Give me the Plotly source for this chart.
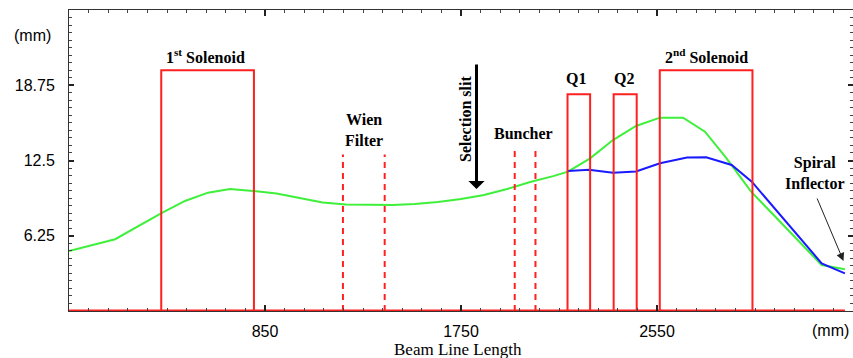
import plotly.graph_objects as go

# ---------------- data ----------------
# beam envelope (mm) vs beam line position (mm)
green_x = [0, 200, 399, 503, 603, 698, 798, 900, 1000, 1100, 1200, 1300, 1400, 1500, 1600,
           1700, 1800, 1900, 2000, 2100, 2164, 2260, 2359, 2459, 2563, 2663, 2758, 2850,
           2958, 3060, 3162, 3214, 3264, 3365]
green_y = [4.98, 5.96, 8.11, 9.14, 9.83, 10.13, 9.97, 9.76, 9.39, 9.01, 8.85, 8.80, 8.80, 8.89, 9.05,
           9.30, 9.63, 10.13, 10.71, 11.20, 11.57, 12.68, 14.20, 15.37, 16.06, 16.06, 14.89, 12.71,
           9.91, 7.89, 5.90, 4.82, 3.82, 3.46]

blue_x = [2164, 2255, 2359, 2459, 2563, 2680, 2763, 2874, 2961, 3214, 3264, 3365]
blue_y = [11.63, 11.74, 11.49, 11.59, 12.27, 12.75, 12.77, 12.13, 10.74, 5.07, 3.96, 3.13]

# beam line elements: (start, end, height)
solid_names = ["1<sup>st</sup> Solenoid", "Q1", "Q2", "2<sup>nd</sup> Solenoid"]
solid_start = [400, 2162, 2362, 2562]
solid_end = [802, 2260, 2462, 2964]
solid_height = [20.0, 18.0, 18.0, 20.0]

dashed_names = ["Wien<br>Filter", "Buncher"]
dashed_start = [1188, 1933]
dashed_end = [1369, 2023]
dashed_height = [13.0, 13.6]

baseline_x = [0, 3365]

x_tickvals = [850, 1700, 2550]
x_ticktext = ["850", "1750", "2550"]
y_tickvals = [6.25, 12.5, 18.75]
y_ticktext = ["6.25", "12.5", "18.75"]

RED = "#ff2020"
GREEN = "#3ef03a"
BLUE = "#1a1aff"

fig = go.Figure()

fig.add_trace(go.Scatter(x=green_x, y=green_y, mode="lines",
                         line=dict(color=GREEN, width=2), showlegend=False))
fig.add_trace(go.Scatter(x=blue_x, y=blue_y, mode="lines",
                         line=dict(color=BLUE, width=2), showlegend=False))

# solid boxes
sx, sy = [], []
for s, e, h in zip(solid_start, solid_end, solid_height):
    sx += [s, s, e, e, None]
    sy += [0, h, h, 0, None]
fig.add_trace(go.Scatter(x=sx, y=sy, mode="lines", line=dict(color=RED, width=2),
                         showlegend=False, cliponaxis=False))

# dashed elements
dx, dy = [], []
for s, e, h in zip(dashed_start, dashed_end, dashed_height):
    dx += [s, s, None, e, e, None]
    dy += [0, h, None, 0, h, None]
fig.add_trace(go.Scatter(x=dx, y=dy, mode="lines",
                         line=dict(color=RED, width=2, dash="6px,5px"),
                         showlegend=False, cliponaxis=False))

# baseline
fig.add_trace(go.Scatter(x=baseline_x, y=[0, 0], mode="lines",
                         line=dict(color=RED, width=3), showlegend=False, cliponaxis=False))

L, T, W, H = 69, 10, 784, 301


def px(xp):
    return (xp - L) / W


def py(yp):
    return (T + H - yp) / H


lab_font = dict(family="Liberation Serif", size=16, color="black")
ann = []
for text, x, y in [("<b>1<sup>st</sup> Solenoid</b>", 205, 56),
                   ("<b>Wien<br>Filter</b>", 364, 130),
                   ("<b>Buncher</b>", 523, 133),
                   ("<b>Q1</b>", 576, 79),
                   ("<b>Q2</b>", 624, 79),
                   ("<b>2<sup>nd</sup> Solenoid</b>", 706, 56),
                   ("<b>Spiral<br>Inflector</b>", 815, 173)]:
    ann.append(dict(text=text, x=px(x), y=py(y), xref="paper", yref="paper",
                    showarrow=False, font=lab_font, xanchor="center", yanchor="middle"))

ann.append(dict(text="<b>Selection slit</b>", x=px(465), y=py(119), xref="paper", yref="paper",
                showarrow=False, font=lab_font, textangle=-90,
                xanchor="center", yanchor="middle"))
# selection slit arrow
ann.append(dict(text="", x=px(476.5), y=py(189), xref="paper", yref="paper",
                showarrow=True, ax=0, ay=-126, arrowwidth=3, arrowhead=1,
                arrowsize=0.9, arrowcolor="black", standoff=0, startstandoff=0))
# spiral inflector arrow
ann.append(dict(text="", x=px(843.5), y=py(261), xref="paper", yref="paper",
                showarrow=True, ax=-27, ay=-64, arrowwidth=1, arrowhead=2,
                arrowsize=1.6, arrowcolor="#222", standoff=0))

tick_font = dict(family="Liberation Sans", size=16, color="black")
ann.append(dict(text="(mm)", x=px(53), y=py(35), xref="paper", yref="paper", showarrow=False,
                font=tick_font, xanchor="right", yanchor="middle"))
ann.append(dict(text="(mm)", x=px(830), y=py(330), xref="paper", yref="paper", showarrow=False,
                font=tick_font, xanchor="center", yanchor="middle"))
ann.append(dict(text="Beam Line Length", x=px(458), y=py(349), xref="paper", yref="paper",
                showarrow=False, font=dict(family="Liberation Serif", size=17, color="black"),
                xanchor="center", yanchor="middle"))

fig.update_layout(
    width=853, height=358,
    margin=dict(l=L, r=0, t=T, b=358 - T - H),
    paper_bgcolor="white", plot_bgcolor="white",
    showlegend=False,
    annotations=ann,
    xaxis=dict(range=[0, 3400], tickmode="array", tickvals=x_tickvals, ticktext=x_ticktext,
               showgrid=False, zeroline=False, showline=True, linecolor="#333", linewidth=1,
               mirror="allticks", ticks="inside", ticklen=6, tickcolor="#222", tickwidth=2,
               tickfont=tick_font, ticklabelstandoff=6,
               minor=dict(tickmode="linear", tick0=0, dtick=85, ticks="inside", ticklen=3,
                          tickcolor="#444", tickwidth=1, showgrid=False)),
    yaxis=dict(range=[0, 25], tickmode="array", tickvals=y_tickvals, ticktext=y_ticktext,
               showgrid=False, zeroline=False, showline=True, linecolor="#333", linewidth=1,
               mirror="allticks", ticks="inside", ticklen=5, tickcolor="#222", tickwidth=2,
               tickfont=tick_font, ticklabelstandoff=10,
               minor=dict(tickmode="linear", tick0=0, dtick=0.625, ticks="inside", ticklen=3,
                          tickcolor="#444", tickwidth=1, showgrid=False)),
)

fig.write_html("out.html")
